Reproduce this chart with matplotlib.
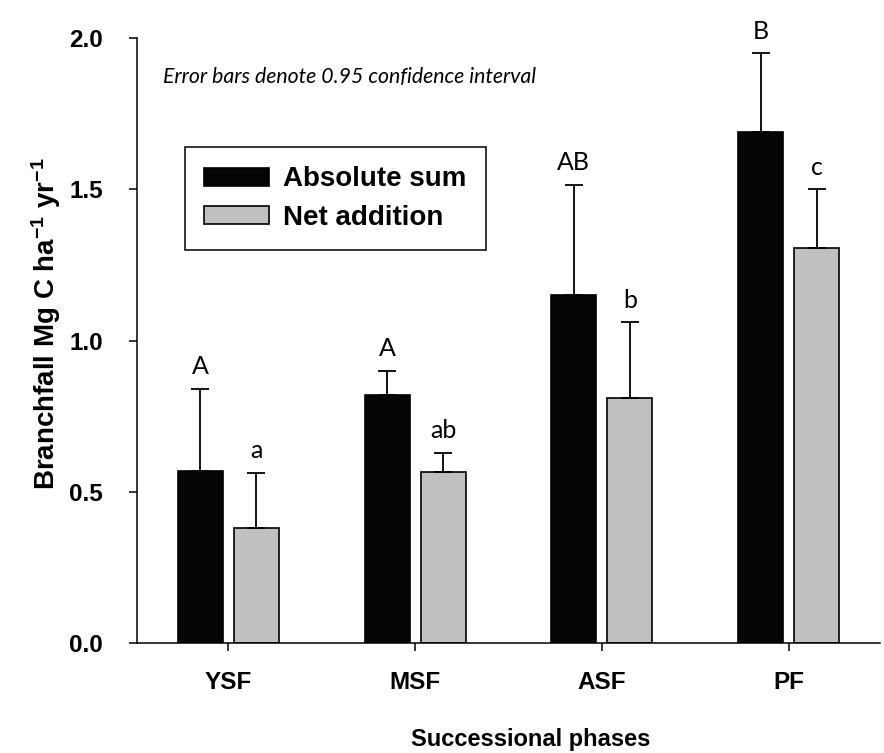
import numpy as np
import matplotlib
matplotlib.use("Agg")
import matplotlib.pyplot as plt

phases = ["YSF", "MSF", "ASF", "PF"]
absolute_sum = [0.57, 0.82, 1.15, 1.69]
absolute_ci = [0.27, 0.08, 0.365, 0.26]
net_addition = [0.38, 0.565, 0.81, 1.305]
net_ci = [0.183, 0.063, 0.25, 0.195]
abs_letters = ["A", "A", "AB", "B"]
net_letters = ["a", "ab", "b", "c"]

plt.rcParams["font.family"] = ["Liberation Sans", "DejaVu Sans"]
plt.rcParams["mathtext.fontset"] = "custom"
plt.rcParams["mathtext.rm"] = "Liberation Sans:bold"
plt.rcParams["mathtext.default"] = "rm"

fig = plt.figure(figsize=(8.84, 7.53), dpi=100)
ax = fig.add_axes([137 / 884, 1 - 643 / 753, (880 - 137) / 884, (643 - 38) / 753])

x = np.arange(len(phases))
w = 0.24
off = 0.15
err_kw = dict(ecolor="black", elinewidth=1.3, capsize=6.5, capthick=1.3)

ax.bar(x - off, absolute_sum, w, color="#050505", edgecolor="black", linewidth=1.2,
       yerr=[np.zeros(4), absolute_ci], error_kw=err_kw, label="Absolute sum")
ax.bar(x + off, net_addition, w, color="#c0c0c0", edgecolor="black", linewidth=1.2,
       yerr=[np.zeros(4), net_ci], error_kw=err_kw, label="Net addition")

# significance letters just above the error caps
letter_font = dict(family=["Lato", "DejaVu Sans"], fontsize=18, ha="center", va="bottom")
for i in range(4):
    ax.text(x[i] - off, absolute_sum[i] + absolute_ci[i] + 0.035, abs_letters[i], **letter_font)
    ax.text(x[i] + off, net_addition[i] + net_ci[i] + 0.035, net_letters[i], **letter_font)

ax.text(0.035, 0.935, "Error bars denote 0.95 confidence interval", transform=ax.transAxes,
        family=["Lato", "DejaVu Sans"], style="italic", fontsize=15.3, va="center")

ax.set_xlim(-0.49, 3.49)
ax.set_ylim(0, 2.0)
ax.set_yticks([0.0, 0.5, 1.0, 1.5, 2.0])
ax.set_yticklabels(["0.0", "0.5", "1.0", "1.5", "2.0"])
ax.set_xticks(x)
ax.set_xticklabels(phases)
for lab in ax.get_xticklabels() + ax.get_yticklabels():
    lab.set_fontweight("bold")
    lab.set_fontsize(17.5)
ax.tick_params(axis="y", direction="out", length=6, width=1.1, pad=18.5)
ax.tick_params(axis="x", direction="out", length=6, width=1.1, pad=14)

for s in ["top", "right"]:
    ax.spines[s].set_visible(False)
for s in ["left", "bottom"]:
    ax.spines[s].set_linewidth(1.1)

ax.set_ylabel("Branchfall Mg C ha$^{-1}$ yr$^{-1}$", fontsize=20, fontweight="bold")
ax.yaxis.set_label_coords(-0.1, 0.527)
ax.set_xlabel("Successional phases", fontsize=17, fontweight="bold")
ax.xaxis.set_label_coords(0.53, -0.14)

leg = ax.legend(loc="upper left", bbox_to_anchor=(185 / 884, 1 - 147 / 753),
                bbox_transform=fig.transFigure, borderaxespad=0, fancybox=False,
                edgecolor="black", framealpha=1, prop=dict(weight="bold", size=20),
                handlelength=2.34, handleheight=0.61, handletextpad=0.5, labelspacing=0.45,
                borderpad=0.7)
leg.get_frame().set_linewidth(1.1)

fig.savefig("out.png", dpi=100)
